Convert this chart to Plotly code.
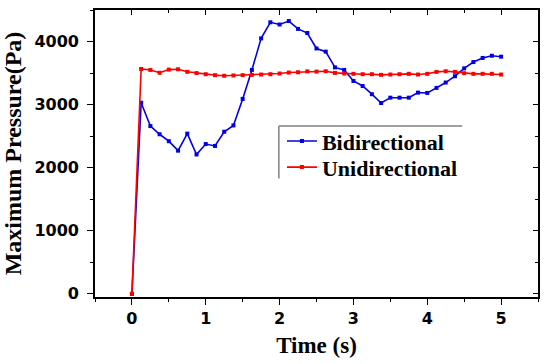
import plotly.graph_objects as go

time_s = [0, 0.125, 0.25, 0.375, 0.5, 0.625, 0.75, 0.875, 1.0, 1.125, 1.25, 1.375,
          1.5, 1.625, 1.75, 1.875, 2.0, 2.125, 2.25, 2.375, 2.5, 2.625, 2.75, 2.875,
          3.0, 3.125, 3.25, 3.375, 3.5, 3.625, 3.75, 3.875, 4.0, 4.125, 4.25, 4.375,
          4.5, 4.625, 4.75, 4.875, 5.0]

bidirectional = [0, 3030, 2660, 2530, 2420, 2270, 2540, 2210, 2375, 2345, 2570, 2670,
                 3090, 3550, 4050, 4305, 4270, 4325, 4200, 4135, 3890, 3840, 3590, 3550,
                 3375, 3295, 3165, 3025, 3110, 3110, 3110, 3190, 3185, 3265, 3350, 3450,
                 3575, 3675, 3740, 3775, 3760]

unidirectional = [0, 3565, 3550, 3505, 3555, 3560, 3520, 3500, 3482, 3467, 3457, 3462,
                  3467, 3472, 3477, 3482, 3493, 3508, 3513, 3527, 3524, 3529, 3503, 3493,
                  3488, 3482, 3482, 3472, 3477, 3482, 3488, 3477, 3488, 3519, 3529, 3519,
                  3498, 3488, 3488, 3488, 3477]

series_names = ["Bidirectional", "Unidirectional"]
series_colors = ["#0000e6", "#ff0000"]
legend_ids = ["legend", "legend2"]

x_tick_vals = [0, 1, 2, 3, 4, 5]
y_tick_vals = [0, 1000, 2000, 3000, 4000]
x_range = [-0.5, 5.5]
y_range = [-50, 4500]

fig = go.Figure()
for name, vals, col, lg in zip(series_names, [bidirectional, unidirectional], series_colors, legend_ids):
    fig.add_trace(go.Scatter(
        x=time_s, y=vals, name=name, mode="lines+markers", legend=lg,
        line=dict(color=col, width=1.6),
        marker=dict(symbol="square", size=4, color=col),
    ))
# dummy trace to bind mirrored (inward-tick) axes
fig.add_trace(go.Scatter(x=[], y=[], xaxis="x2", yaxis="y2", showlegend=False, hoverinfo="skip"))

tick_font = dict(family="DejaVu Sans", size=16, color="black", weight="bold")
x_title_font = dict(family="Liberation Serif", size=23, color="black", weight="bold")
y_title_font = dict(family="Liberation Serif", size=24, color="black", weight="bold")
legend_font = dict(family="Liberation Serif", size=22, color="black", weight="bold")

common = dict(showgrid=False, zeroline=False, showline=True, linecolor="black", linewidth=1.6,
              tickcolor="black", tickwidth=1.4)

fig.update_layout(
    width=550, height=364,
    margin=dict(l=94, r=12, t=10, b=61),
    paper_bgcolor="white", plot_bgcolor="white",
    showlegend=True,
    legend=dict(x=0.422, y=0.543, xanchor="left", yanchor="middle",
                bgcolor="rgba(0,0,0,0)", borderwidth=0, font=legend_font, itemwidth=30),
    legend2=dict(x=0.422, y=0.452, xanchor="left", yanchor="middle",
                 bgcolor="rgba(0,0,0,0)", borderwidth=0, font=legend_font, itemwidth=30),
    xaxis=dict(range=x_range, tickvals=x_tick_vals, ticks="outside", ticklen=6,
               tickfont=tick_font,
               minor=dict(ticks="outside", ticklen=3, dtick=0.5, tick0=0, tickcolor="black", tickwidth=1.2),
               title=dict(text="Time (s)", font=x_title_font, standoff=10), **common),
    yaxis=dict(range=y_range, tickvals=y_tick_vals, ticks="outside", ticklen=6,
               tickfont=tick_font, ticklabelstandoff=5,
               minor=dict(ticks="outside", ticklen=3, dtick=500, tick0=0, tickcolor="black", tickwidth=1.2),
               title=dict(text="Maximum Pressure(Pa)", font=y_title_font, standoff=8), **common),
    xaxis2=dict(range=x_range, overlaying="x", side="top", tickvals=x_tick_vals, ticks="inside",
                ticklen=5, showticklabels=False,
                minor=dict(ticks="inside", ticklen=3, dtick=0.5, tick0=0, tickcolor="black", tickwidth=1.2),
                **common),
    yaxis2=dict(range=y_range, overlaying="y", side="right", tickvals=y_tick_vals, ticks="inside",
                ticklen=5, showticklabels=False,
                minor=dict(ticks="inside", ticklen=3, dtick=500, tick0=0, tickcolor="black", tickwidth=1.2),
                **common),
    shapes=[
        dict(type="line", xref="paper", yref="paper", x0=0.415, x1=0.829, y0=0.596, y1=0.596,
             line=dict(color="#808080", width=1.5)),
        dict(type="line", xref="paper", yref="paper", x0=0.415, x1=0.415, y0=0.596, y1=0.413,
             line=dict(color="#808080", width=1.5)),
    ],
)

fig.write_html("out.html", config={"displayModeBar": False},
               post_script="document.body.style.margin='0';document.body.style.padding='0';")
